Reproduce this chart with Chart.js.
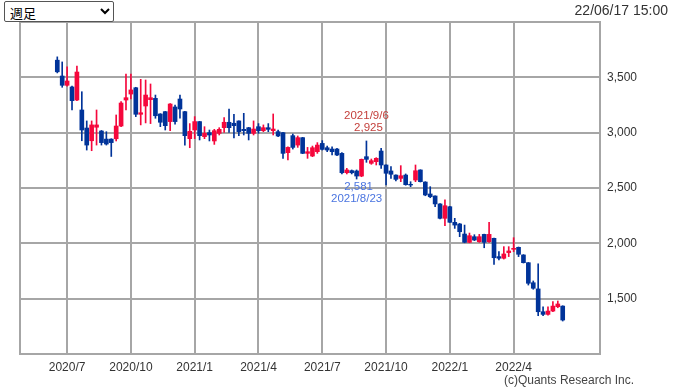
<!DOCTYPE html>
<html>
<head>
<meta charset="utf-8">
<script src="https://cdn.jsdelivr.net/npm/chart.js@4.4.0/dist/chart.umd.min.js"></script>
<style>
  body { margin: 0; background: #fff; }
  #wrap { position: relative; width: 673px; height: 390px; }
  #span {
    position: absolute; left: 4px; top: 1px; width: 110px; height: 21px;
    font: 13px "Noto Sans CJK JP", sans-serif; padding: 0 0 0 1px;
    border: 1px solid #555; border-radius: 2px; background: #fff; color: #000;
  }
  #stamp { position: absolute; right: 5px; top: 2px; font: 14px "Liberation Sans", Arial, sans-serif; color: #333; }
  #copy { position: absolute; right: 39px; top: 373px; font: 12px "Liberation Sans", Arial, sans-serif; color: #444; }
</style>
</head>
<body>
<div id="wrap">
  <canvas id="weekly"></canvas>
  <select id="span"><option>日足</option><option selected>週足</option><option>月足</option></select>
  <div id="stamp">22/06/17 15:00</div>
  <div id="copy">(c)Quants Research Inc.</div>
</div>
<script>
// weekly candles, week start dates
var weeks = [
  '2020/6/22','2020/6/29','2020/7/6','2020/7/13','2020/7/20','2020/7/27','2020/8/3','2020/8/10','2020/8/17','2020/8/24',
  '2020/8/31','2020/9/7','2020/9/14','2020/9/21','2020/9/28','2020/10/5','2020/10/12','2020/10/19','2020/10/26','2020/11/2',
  '2020/11/9','2020/11/16','2020/11/23','2020/11/30','2020/12/7','2020/12/14','2020/12/21','2020/12/28','2021/1/4','2021/1/11',
  '2021/1/18','2021/1/25','2021/2/1','2021/2/8','2021/2/15','2021/2/22','2021/3/1','2021/3/8','2021/3/15','2021/3/22',
  '2021/3/29','2021/4/5','2021/4/12','2021/4/19','2021/4/26','2021/5/3','2021/5/10','2021/5/17','2021/5/24','2021/5/31',
  '2021/6/7','2021/6/14','2021/6/21','2021/6/28','2021/7/5','2021/7/12','2021/7/19','2021/7/26','2021/8/2','2021/8/9',
  '2021/8/16','2021/8/23','2021/8/30','2021/9/6','2021/9/13','2021/9/20','2021/9/27','2021/10/4','2021/10/11','2021/10/18',
  '2021/10/25','2021/11/1','2021/11/8','2021/11/15','2021/11/22','2021/11/29','2021/12/6','2021/12/13','2021/12/20','2021/12/27',
  '2022/1/3','2022/1/10','2022/1/17','2022/1/24','2022/1/31','2022/2/7','2022/2/14','2022/2/21','2022/2/28','2022/3/7',
  '2022/3/14','2022/3/21','2022/3/28','2022/4/4','2022/4/11','2022/4/18','2022/4/25','2022/5/2','2022/5/9','2022/5/16',
  '2022/5/23','2022/5/30','2022/6/6','2022/6/13'
];

var open = [
  3655,3512,3428,3413,3295,3205,3042,2927,3049,3015, 2942,2942,2945,3060,3295,3349,3406,3166,3241,3298,
  3310,3169,3190,3100,3232,3304,3190,2946,3024,3100, 2964,3000,2925,2994,3045,3094,3085,3106,3030,3045,
  2994,3054,3018,3045,3018,3009,3000,2819,2973,2888, 2955,2813,2789,2828,2903,2864,2852,2852,2813,2638,
  2657,2654,2608,2783,2723,2738,2834,2708,2654,2617, 2587,2617,2533,2572,2663,2554,2446,2428,2356,2226,
  2331,2190,2175,2084,2009,2060,2015,2081,2015,2045, 1880,1865,1916,1946,1964,1895,1825,1644,1588,1382,
  1358,1388,1427,1433
];
var high = [
  3685,3639,3596,3420,3602,3370,3106,3106,3205,3020, 3009,2945,3160,3280,3530,3530,3410,3482,3476,3440,
  3340,3172,3192,3262,3250,3340,3192,3082,3145,3102, 3054,3024,3030,3045,3136,3214,3166,3108,3175,3048,
  3106,3082,3070,3082,3169,3024,3002,2873,2988,2970, 2958,2867,2879,2910,2928,2879,2873,2858,2819,2678,
  2663,2663,2762,2925,2762,2774,2858,2710,2693,2620, 2702,2627,2557,2708,2665,2557,2512,2430,2360,2392,
  2335,2226,2180,2165,2093,2078,2081,2083,2190,2047, 1925,1970,1970,2051,1967,1898,1827,1660,1815,1427,
  1427,1473,1479,1436
];
var low = [
  3540,3410,3420,3205,3290,2927,2843,2837,2888,2888, 2888,2785,2925,3055,3205,3304,3145,3070,3088,3082,
  3130,3054,3024,3018,3076,3130,2888,2864,2946,2934, 2946,2925,2894,2979,3003,3003,2952,2973,2979,2934,
  2979,2994,3009,3009,2979,2964,2768,2753,2852,2867, 2810,2768,2783,2813,2843,2828,2798,2792,2627,2627,
  2627,2581,2602,2732,2714,2708,2678,2527,2587,2563, 2557,2525,2512,2557,2554,2430,2412,2331,2220,2160,
  2188,2135,2060,2005,2005,2024,2009,1960,2009,1810, 1850,1858,1880,1925,1880,1822,1623,1585,1346,1346,
  1352,1382,1418,1298
];
var close = [
  3550,3428,3467,3289,3548,3024,2888,3070,3070,2910, 2897,2910,3060,3268,3316,3386,3166,3180,3340,3316,
  3153,3094,3063,3259,3100,3214,2973,3012,3100,2973, 2994,2979,3018,3030,3094,3045,3063,3009,3018,2994,
  3033,3018,3045,3030,3033,2970,2813,2867,2867,2955, 2813,2828,2864,2888,2849,2843,2828,2798,2638,2663,
  2638,2608,2759,2759,2747,2768,2708,2633,2624,2578, 2611,2530,2527,2656,2557,2437,2421,2356,2226,2340,
  2190,2165,2105,2009,2069,2030,2060,2009,2081,1870, 1865,1904,1931,1955,1901,1825,1639,1594,1382,1358,
  1388,1433,1452,1307
];

// marked high / low
var highMark = { week: '2021/9/6', price: 2925 };
var lowMark = { week: '2021/8/23', price: 2581 };

var upColor = '#f5073c';
var downColor = '#003399';

// gridline at first week of each quarter month
var tickIdx = [];
for (var i = 1; i < weeks.length; i++) {
  var m = +weeks[i].split('/')[1];
  if (m !== +weeks[i - 1].split('/')[1] && m % 3 === 1) tickIdx.push(i);
}
var tickLabel = function(i){
  var p = weeks[i].split('/');
  return p[0] + '/' + p[1];
};

var colors = [];
var wicks = [];
var bodies = [];
for (var i = 0; i < weeks.length; i++) {
  colors.push(close[i] >= open[i] ? upColor : downColor);
  wicks.push({ x: i, y: [low[i], high[i]] });
  bodies.push({ x: i, y: [open[i], close[i]] });
}

var framePlugin = {
  id: 'frame',
  afterDraw: function(chart){
    var ctx = chart.ctx, a = chart.chartArea;
    ctx.save();
    ctx.strokeStyle = '#a6a6a6';
    ctx.lineWidth = 2;
    ctx.strokeRect(a.left, a.top, a.right - a.left, a.bottom - a.top);
    ctx.restore();
  }
};

var markPlugin = {
  id: 'marks',
  afterDatasetsDraw: function(chart){
    var ctx = chart.ctx, xs = chart.scales.x, ys = chart.scales.y;
    ctx.save();
    ctx.font = '11.5px "Liberation Sans", Arial, sans-serif';
    ctx.textAlign = 'center';
    ctx.textBaseline = 'middle';

    var hx = xs.getPixelForValue(weeks.indexOf(highMark.week));
    var hy = ys.getPixelForValue(highMark.price);
    ctx.fillStyle = '#c4403c';
    ctx.fillText(highMark.week, hx, hy - 25);
    ctx.fillText(highMark.price.toLocaleString('en-US'), hx + 2, hy - 13);

    var lx = xs.getPixelForValue(weeks.indexOf(lowMark.week));
    var ly = ys.getPixelForValue(lowMark.price);
    ctx.fillStyle = '#4a74e0';
    ctx.fillText(lowMark.price.toLocaleString('en-US'), lx + 2, ly + 8);
    ctx.fillText(lowMark.week, lx, ly + 20);
    ctx.restore();
  }
};

var axisFont = { family: '"Liberation Sans", Arial, sans-serif', size: 12 };

new Chart(document.getElementById('weekly'), {
  type: 'bar',
  data: {
    datasets: [
      { label: 'body', data: bodies, backgroundColor: colors, barThickness: 4, grouped: false, order: 1 },
      { label: 'wick', data: wicks, backgroundColor: colors, barThickness: 1, grouped: false, order: 2 }
    ]
  },
  options: {
    responsive: true,
    maintainAspectRatio: false,
    animation: false,
    events: [],
    layout: { padding: { left: 20, top: 22, right: 0, bottom: 0 } },
    plugins: { legend: { display: false }, tooltip: { enabled: false } },
    scales: {
      x: {
        type: 'linear',
        min: -7.6,
        max: 110.6,
        offset: false,
        grid: { offset: false, color: '#a6a6a6', lineWidth: 2, drawTicks: false },
        border: { display: false },
        afterBuildTicks: function(scale){
          scale.ticks = tickIdx.map(function(v){ return { value: v }; });
        },
        afterFit: function(scale){ scale.height = 36; },
        ticks: {
          autoSkip: false,
          maxRotation: 0,
          padding: 6,
          color: '#333',
          font: axisFont,
          callback: function(v){ return tickLabel(v); }
        }
      },
      y: {
        position: 'right',
        min: 1000,
        max: 4000,
        grid: { color: '#a6a6a6', lineWidth: 2, drawTicks: false },
        border: { display: false },
        afterFit: function(scale){ scale.width = 73; },
        ticks: {
          stepSize: 500,
          padding: 7,
          color: '#333',
          font: axisFont,
          callback: function(v){
            if (v === 1000 || v === 4000) return '';
            return v.toLocaleString('en-US');
          }
        }
      }
    }
  },
  plugins: [framePlugin, markPlugin]
});
</script>
</body>
</html>
